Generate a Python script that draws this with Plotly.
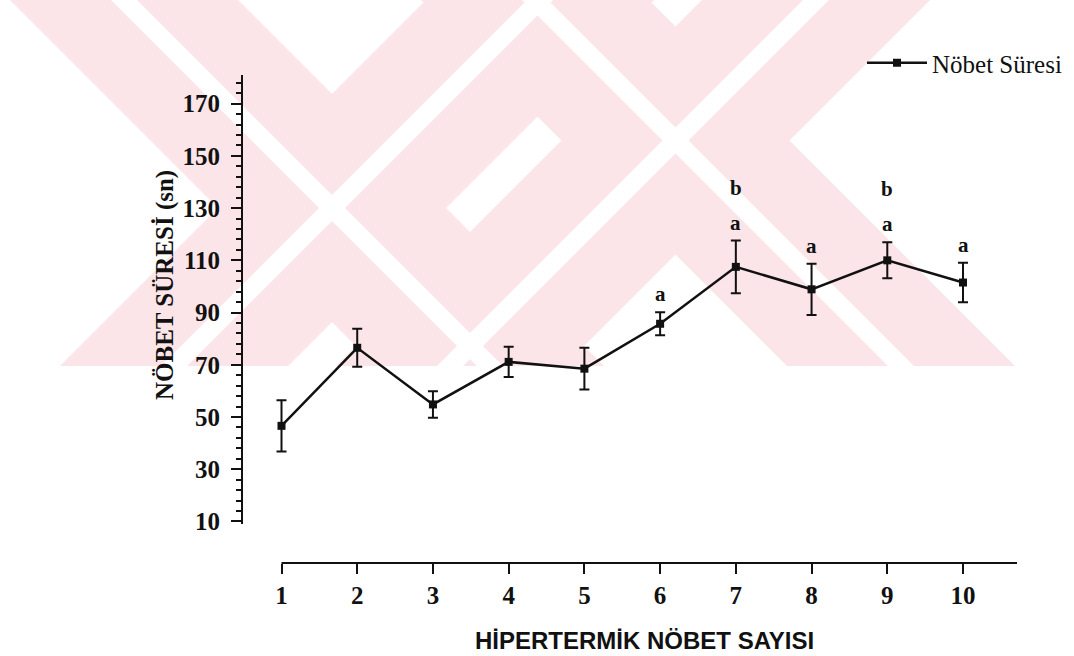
import plotly.graph_objects as go

# Hyperthermic seizure sessions and mean seizure duration (s) with error
sessions = [1, 2, 3, 4, 5, 6, 7, 8, 9, 10]
seizure_duration = [46.6, 76.5, 54.8, 71.1, 68.5, 85.7, 107.5, 98.9, 110.0, 101.5]
sem = [9.8, 7.3, 5.1, 5.8, 8.0, 4.4, 10.1, 9.8, 6.9, 7.6]
y_ticks = [10, 30, 50, 70, 90, 110, 130, 150, 170]

# sessions marked with significance letters
sig_a = [6, 7, 8, 9, 10]
sig_b = [7, 9]

W, H = 1074, 656


def fx(px):
    return px / W


def fy(py):
    return 1 - py / H


SERIF = "Liberation Serif, Times New Roman, serif"
SANS = "Liberation Sans, Arial, sans-serif"
INK = "#111111"
PINK = "#fce5e8"

fig = go.Figure()
fig.add_trace(go.Scatter(
    x=sessions,
    y=seizure_duration,
    name="Nöbet Süresi",
    mode="lines+markers",
    line=dict(color=INK, width=2.5),
    marker=dict(symbol="square", size=8, color=INK),
    error_y=dict(type="data", array=sem, visible=True,
                 color=INK, thickness=2, width=5),
))

annotations = []
for s in sig_a:
    i = sessions.index(s)
    annotations.append(dict(
        x=s, y=seizure_duration[i] + sem[i], xref="x", yref="y",
        text="a", showarrow=False, yshift=18, yanchor="middle",
        font=dict(family=SERIF, size=21, color=INK, weight="bold"),
    ))
for s in sig_b:
    i = sessions.index(s)
    annotations.append(dict(
        x=s, y=seizure_duration[i] + sem[i], xref="x", yref="y",
        text="b", showarrow=False, yshift=53, yanchor="middle",
        font=dict(family=SERIF, size=21, color=INK, weight="bold"),
    ))

# axis titles
annotations.append(dict(
    x=fx(644), y=fy(640), xref="paper", yref="paper",
    text="HİPERTERMİK NÖBET SAYISI", showarrow=False,
    xanchor="center", yanchor="middle",
    font=dict(family=SANS, size=24, color=INK, weight="bold"),
))
annotations.append(dict(
    x=fx(165), y=fy(285), xref="paper", yref="paper",
    text="NÖBET SÜRESİ (sn)", showarrow=False, textangle=-90,
    xanchor="center", yanchor="middle",
    font=dict(family=SERIF, size=25, color=INK, weight="bold"),
))

x_lo, x_hi = 0.4916, 10.713
x_axis_y = fy(563)

# --- faint background emblem: two striped diagonal crosses (pixel units) ---
EMBLEM_BOTTOM = 366          # lower cut of the emblem
ARM_W = 228                  # horizontal width of each arm
GAP_W = 26                   # white split inside each arm
# (x - y) offset of the "\" arm and (x + y) offset of the "/" arm, left edges
crosses = [(10, 426), (421, 702)]


def band_path(c0, c1, slope):
    """Diagonal band between two parallel 45-degree lines, cut at y=0 and the emblem bottom."""
    b = EMBLEM_BOTTOM
    if slope == "down":      # x - y = c
        pts = [(c0, 0), (c1, 0), (c1 + b, b), (c0 + b, b)]
    else:                    # x + y = c
        pts = [(c0, 0), (c1, 0), (c1 - b, b), (c0 - b, b)]
    return "M " + " L ".join(f"{fx(px):.5f},{fy(py):.5f}" for px, py in pts) + " Z"


emblem = []
for d0, u0 in crosses:
    for c, kind in ((d0, "down"), (u0, "up")):
        emblem.append(dict(type="path", xref="paper", yref="paper", layer="below",
                           path=band_path(c, c + ARM_W, kind),
                           fillcolor=PINK, line=dict(width=0)))
for d0, u0 in crosses:
    for c, kind in ((d0, "down"), (u0, "up")):
        mid = c + ARM_W / 2
        emblem.append(dict(type="path", xref="paper", yref="paper", layer="below",
                           path=band_path(mid - GAP_W / 2, mid + GAP_W / 2, kind),
                           fillcolor="white", line=dict(width=0)))

fig.update_layout(
    width=W, height=H,
    margin=dict(l=0, r=0, t=0, b=0, autoexpand=False),
    paper_bgcolor="white",
    plot_bgcolor="rgba(0,0,0,0)",
    showlegend=True,
    legend=dict(
        x=fx(862), y=fy(63), xanchor="left", yanchor="middle",
        itemwidth=60,
        bgcolor="rgba(0,0,0,0)",
        font=dict(family=SERIF, size=25, color=INK),
    ),
    xaxis=dict(
        domain=[fx(243), fx(1017)],
        range=[x_lo, x_hi],
        anchor="free", position=x_axis_y,
        tickmode="array", tickvals=sessions,
        ticktext=[str(s) for s in sessions],
        ticks="outside", ticklen=10, tickwidth=2, tickcolor=INK,
        showline=False, showgrid=False, zeroline=False,
        tickfont=dict(family=SERIF, size=25, color=INK, weight="bold"),
    ),
    yaxis=dict(
        domain=[fy(524), fy(75)],
        range=[9, 181],
        anchor="x",
        tickmode="array", tickvals=y_ticks,
        ticks="outside", ticklen=10, tickwidth=2, tickcolor=INK,
        ticklabelstandoff=6,
        minor=dict(ticks="outside", ticklen=5, tickwidth=1.5,
                   tickcolor=INK, dtick=4, tick0=10, showgrid=False),
        showline=True, linewidth=2, linecolor=INK,
        showgrid=False, zeroline=False,
        tickfont=dict(family=SERIF, size=25, color=INK, weight="bold"),
    ),
    annotations=annotations,
    shapes=emblem + [dict(
        type="line", xref="x", yref="paper",
        x0=1, x1=x_hi, y0=x_axis_y, y1=x_axis_y,
        line=dict(color=INK, width=2),
    )],
)

fig.write_html("out.html")
